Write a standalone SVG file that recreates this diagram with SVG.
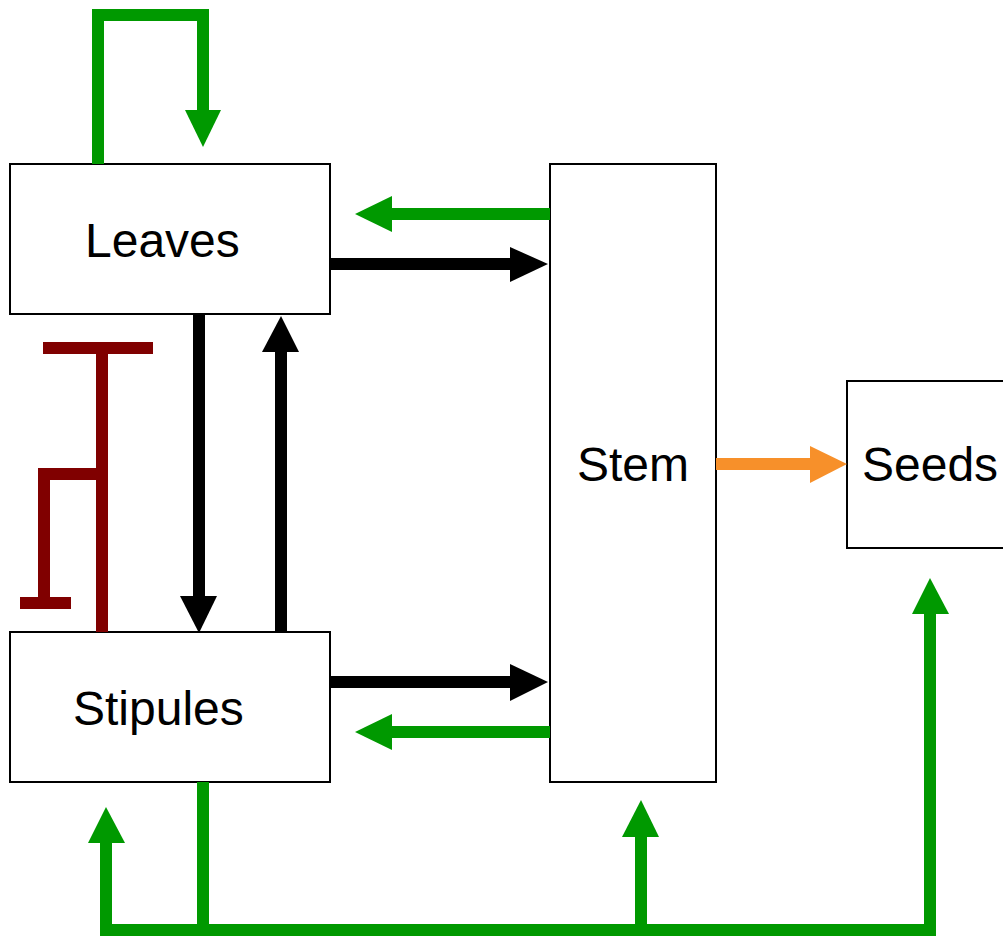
<svg xmlns="http://www.w3.org/2000/svg" width="1003" height="936" viewBox="0 0 1003 936">
<style>
.box{fill:#fff;stroke:#000;stroke-width:2}
.lbl{font-family:"Liberation Sans",Arial,sans-serif;font-size:48px;fill:#000}
.g{stroke:#009900;stroke-width:12;fill:none}
.k{stroke:#000;stroke-width:12;fill:none}
.r{stroke:#800000;stroke-width:12;fill:none}
.o{stroke:#f7902a;stroke-width:12;fill:none}
</style>
<rect width="1003" height="936" fill="#fff"/>
<g id="leaves"><rect class="box" x="10" y="164" width="320" height="150"/><text class="lbl" x="85" y="257">Leaves</text></g>
<g id="stipules"><rect class="box" x="10" y="632" width="320" height="150"/><text class="lbl" x="73" y="725">Stipules</text></g>
<g id="stem"><rect class="box" x="550" y="164" width="166" height="618"/><text class="lbl" x="577" y="481">Stem</text></g>
<g id="seeds"><rect class="box" x="847" y="381" width="170" height="167"/><text class="lbl" x="862" y="481">Seeds</text></g>
<g id="connectors">
<polyline class="g" points="98,164 98,15 203,15 203,111"/>
<polygon fill="#009900" points="185,110 221,110 203,147"/>
<line class="g" x1="550" y1="214" x2="391" y2="214"/>
<polygon fill="#009900" points="392,196 392,232 355,214"/>
<line class="k" x1="330" y1="264" x2="511" y2="264"/>
<polygon fill="#000" points="510,247 510,282 548,264"/>
<line class="k" x1="199" y1="314" x2="199" y2="597"/>
<polygon fill="#000" points="180,596 217,596 199,633"/>
<line class="k" x1="281" y1="632" x2="281" y2="351"/>
<polygon fill="#000" points="262,352 299,352 281,316"/>
<polyline class="r" points="102,632 102,348"/>
<line class="r" x1="43" y1="348" x2="153" y2="348"/>
<polyline class="r" points="102,474 44,474 44,603"/>
<line class="r" x1="20" y1="603" x2="71" y2="603"/>
<line class="k" x1="330" y1="682" x2="511" y2="682"/>
<polygon fill="#000" points="510,664 510,701 548,682"/>
<line class="g" x1="550" y1="732" x2="391" y2="732"/>
<polygon fill="#009900" points="392,714 392,750 355,732"/>
<line class="o" x1="716" y1="464" x2="811" y2="464"/>
<polygon fill="#f7902a" points="810,446 810,483 847,464"/>
<polyline class="g" points="106,842 106,930 930,930 930,613"/>
<line class="g" x1="203" y1="782" x2="203" y2="930"/>
<line class="g" x1="641" y1="930" x2="641" y2="836"/>
<polygon fill="#009900" points="88,843 125,843 106,807"/>
<polygon fill="#009900" points="622,837 659,837 641,800"/>
<polygon fill="#009900" points="912,614 949,614 930,578"/>
</g>
</svg>
